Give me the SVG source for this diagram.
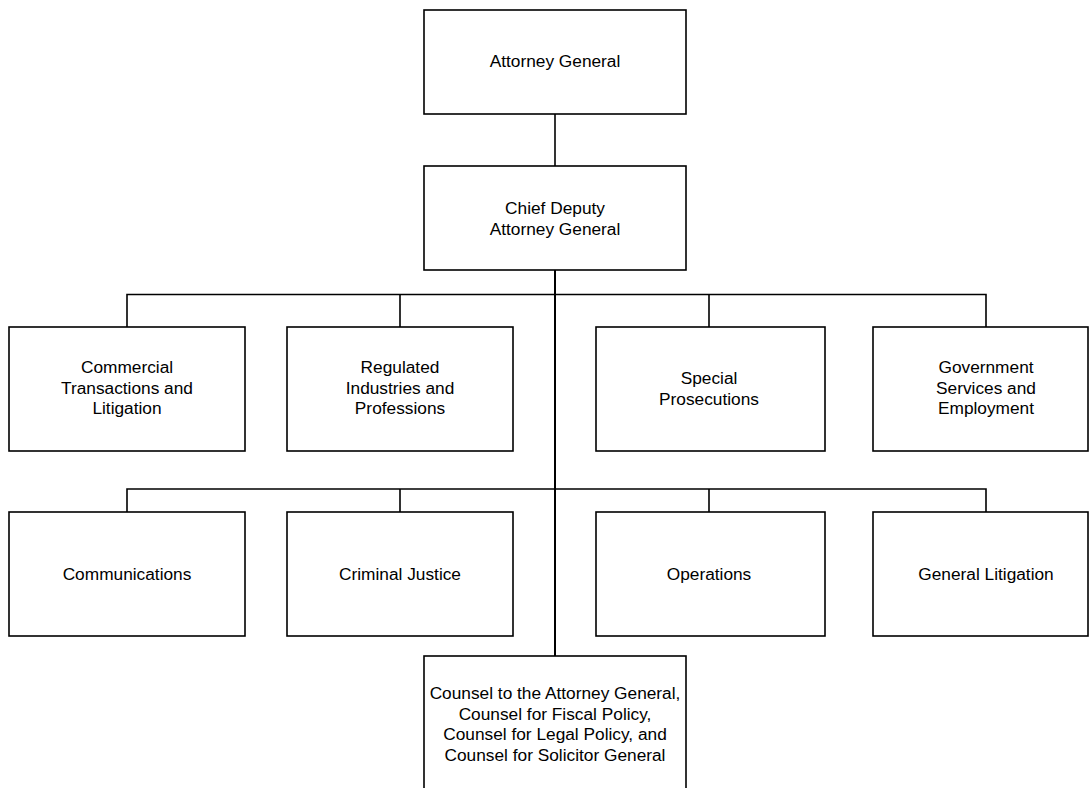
<svg xmlns="http://www.w3.org/2000/svg" width="1090" height="788" viewBox="0 0 1090 788">
<style>
.box{fill:#fff;stroke:#000;stroke-width:1.6}
.ln{fill:none;stroke:#000;stroke-width:1.6}
.trunk{fill:none;stroke:#000;stroke-width:2}
text{font-family:"Liberation Sans",Arial,sans-serif;font-size:17.3px;fill:#000;text-anchor:middle}
</style>
<rect width="1090" height="788" fill="#fff"/>
<g id="connectors">
<path class="ln" d="M555 114V166"/>
<path class="ln" d="M127 327V294.5H986V327M400 294.5V327M709 294.5V327"/>
<path class="ln" d="M127 512V489H986V512M400 489V512M709 489V512"/>
<path class="trunk" d="M555 270V656"/>
</g>
<g id="attorney-general"><rect class="box" x="424" y="10" width="262" height="104"/><text x="555" y="66.5">Attorney General</text></g>
<g id="chief-deputy"><rect class="box" x="424" y="166" width="262" height="104"/><text x="555" y="214">Chief Deputy</text><text x="555" y="234.5">Attorney General</text></g>
<g id="commercial"><rect class="box" x="9" y="327" width="236" height="124"/><text x="127" y="373">Commercial</text><text x="127" y="393.5">Transactions and</text><text x="127" y="414">Litigation</text></g>
<g id="regulated"><rect class="box" x="287" y="327" width="226" height="124"/><text x="400" y="373">Regulated</text><text x="400" y="393.5">Industries and</text><text x="400" y="414">Professions</text></g>
<g id="special"><rect class="box" x="596" y="327" width="229" height="124"/><text x="709" y="384">Special</text><text x="709" y="404.5">Prosecutions</text></g>
<g id="government"><rect class="box" x="873" y="327" width="215" height="124"/><text x="986" y="373">Government</text><text x="986" y="393.5">Services and</text><text x="986" y="414">Employment</text></g>
<g id="communications"><rect class="box" x="9" y="512" width="236" height="124"/><text x="127" y="580">Communications</text></g>
<g id="criminal"><rect class="box" x="287" y="512" width="226" height="124"/><text x="400" y="580">Criminal Justice</text></g>
<g id="operations"><rect class="box" x="596" y="512" width="229" height="124"/><text x="709" y="580">Operations</text></g>
<g id="general-litigation"><rect class="box" x="873" y="512" width="215" height="124"/><text x="986" y="580">General Litigation</text></g>
<g id="counsel"><rect class="box" x="424" y="656" width="262" height="145"/><text x="555" y="699">Counsel to the Attorney General,</text><text x="555" y="719.5">Counsel for Fiscal Policy,</text><text x="555" y="740">Counsel for Legal Policy, and</text><text x="555" y="760.5">Counsel for Solicitor General</text></g>
</svg>
